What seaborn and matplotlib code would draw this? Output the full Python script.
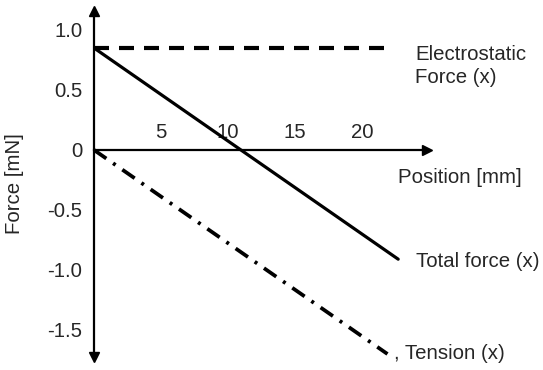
import matplotlib
matplotlib.use('Agg')
import matplotlib.pyplot as plt
import numpy as np
import pandas as pd
import seaborn as sns

# values
position = [0.0, 22.1]
electrostatic = [0.85, 0.85]
total_pos = [0.0, 22.7]
total_force = [0.85, -0.91]
tension_pos = [0.0, 21.9]
tension = [0.0, -1.70]

x_ticks = [5, 10, 15, 20]
y_ticks = [1.0, 0.5, 0.0, -0.5, -1.0, -1.5]
y_tick_labels = ['1.0', '0.5', '0', '-0.5', '-1.0', '-1.5']

sns.set_style('white')
plt.rcParams['font.family'] = ['Liberation Sans', 'DejaVu Sans']
FS = 14.7

fig = plt.figure(figsize=(5.43, 3.70), dpi=100)
ax = fig.add_axes([94 / 543, 13 / 370, 333 / 543, 346 / 370])

sns.lineplot(x=position, y=electrostatic, ax=ax, color='black', linewidth=3.0,
             linestyle=(0, (3.6, 2.4)))
sns.lineplot(x=total_pos, y=total_force, ax=ax, color='black', linewidth=2.3)
sns.lineplot(x=tension_pos, y=tension, ax=ax, color='black', linewidth=2.7,
             linestyle=(0, (4.0, 2.2, 0.8, 2.2)))

ax.set_xlim(0, 24.85)
ax.set_ylim(-1.725, 1.158)

# axes drawn through the origin
ax.spines['right'].set_visible(False)
ax.spines['bottom'].set_visible(False)
ax.spines['top'].set_position(('data', 0))
ax.spines['left'].set_position(('data', 0))
for s in ['top', 'left']:
    ax.spines[s].set_linewidth(1.6)
    ax.spines[s].set_color('black')

ax.plot(1, 0, '>', color='black', markersize=7, transform=ax.get_yaxis_transform(), clip_on=False)
ax.plot(0, 1, '^', color='black', markersize=7, transform=ax.get_xaxis_transform(), clip_on=False)
ax.plot(0, 0, 'v', color='black', markersize=7, transform=ax.get_xaxis_transform(), clip_on=False)

ax.xaxis.set_ticks_position('top')
ax.set_xticks(x_ticks, [str(t) for t in x_ticks])
ax.set_yticks(y_ticks, y_tick_labels)
ax.tick_params(axis='x', length=0, pad=5.5, labelsize=FS)
ax.tick_params(axis='y', length=0, pad=8.5, labelsize=FS)

ax.set_ylabel('Force [mN]', fontsize=FS)
ax.yaxis.set_label_coords(-0.21, 0.5)

ax.annotate('Position [mm]', xy=(1, 0), xycoords=('axes fraction', 'data'),
            xytext=(-21, -19.5), textcoords='offset points', ha='left', va='center',
            fontsize=FS, annotation_clip=False)
ax.annotate('Electrostatic\nForce (x)', xy=(position[-1], electrostatic[-1]),
            xytext=(18, -13), textcoords='offset points', ha='left', va='center',
            fontsize=FS, linespacing=1.3, annotation_clip=False)
ax.annotate('Total force (x)', xy=(total_pos[-1], total_force[-1]),
            xytext=(13, -2), textcoords='offset points', ha='left', va='center',
            fontsize=FS, annotation_clip=False)
ax.annotate(', Tension (x)', xy=(tension_pos[-1], tension[-1]),
            xytext=(5, 0), textcoords='offset points', ha='left', va='center',
            fontsize=FS, annotation_clip=False)

fig.savefig('out.png', dpi=100)
